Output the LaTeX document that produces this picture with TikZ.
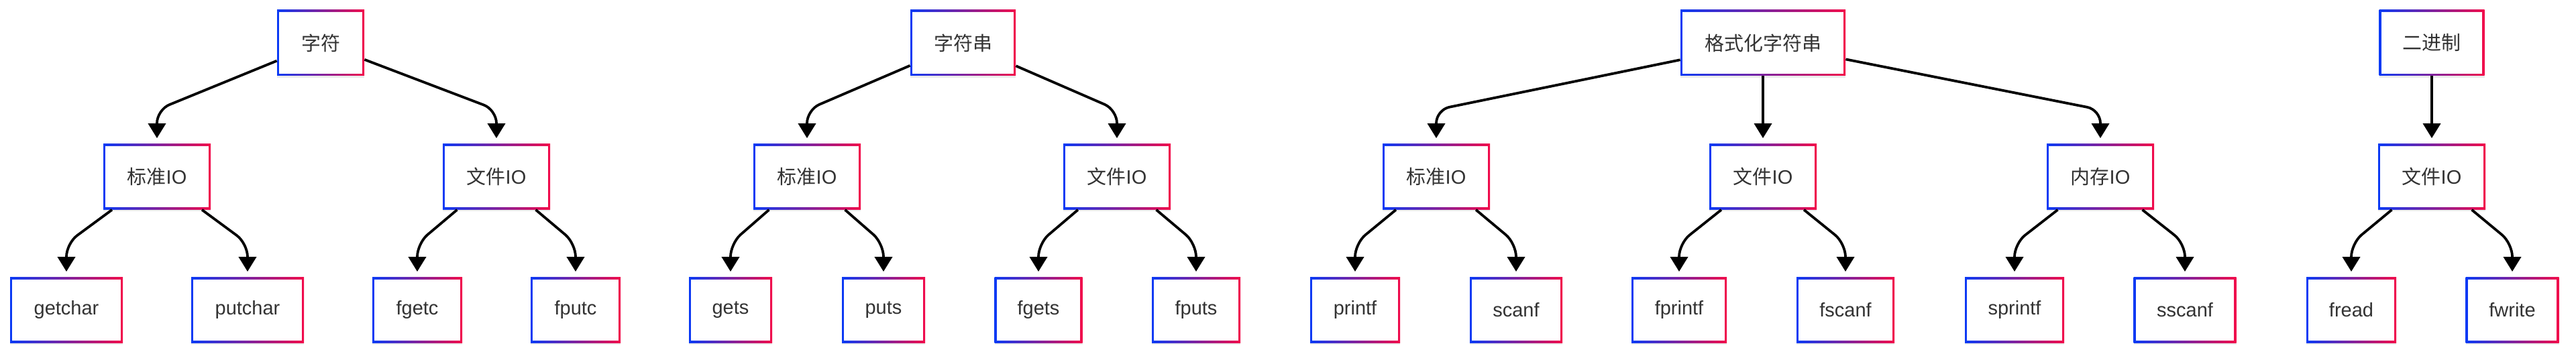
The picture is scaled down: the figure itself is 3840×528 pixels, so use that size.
\documentclass[tikz,border=0pt]{standalone}
\usepackage{fontspec}
\setmainfont{Liberation Sans}
\newfontfamily\cjk{Noto Sans CJK SC}
\usetikzlibrary{arrows.meta,shadows}
\definecolor{gblue}{HTML}{0A3AF5}
\definecolor{gred}{HTML}{F20A4A}
\definecolor{txt}{HTML}{333333}
\tikzset{
  box/.style={fill=white, minimum height=49pt, inner sep=0pt, text=txt,
    font=\fontsize{14.5pt}{17pt}\selectfont,
    drop shadow={shadow xshift=0pt, shadow yshift=-1.5pt, opacity=0.08, fill=black},
    path picture={
      \shade[left color=gblue, right color=gred] (path picture bounding box.south west) rectangle (path picture bounding box.north east);
      \fill[white] ([shift={(1.7pt,1.7pt)}]path picture bounding box.south west) rectangle ([shift={(-1.7pt,-1.7pt)}]path picture bounding box.north east);
    }},
  link/.style={line width=1.9pt, rounded corners=10pt, shorten >=4pt, -{Triangle[length=11pt,width=13pt]}}
}
\begin{document}
\begin{tikzpicture}[x=0.5pt, y=-0.5pt]
	\path[use as bounding box, fill=white] (0,0) rectangle (3840,528);
	
	% 字符
	\node[box, minimum width=65pt] (ch) at (478,64) {{\cjk 字符}};
	\node[box, minimum width=80pt] (ch_std) at (234,263.5) {{\cjk 标准}IO};
	\node[box, minimum width=80pt] (ch_file) at (740,263.5) {{\cjk 文件}IO};
	\node[box, minimum width=84pt] (getchar) at (99,462.5) {getchar};
	\node[box, minimum width=84pt] (putchar) at (369,462.5) {putchar};
	\node[box, minimum width=67pt] (fgetc) at (622,462.5) {fgetc};
	\node[box, minimum width=67pt] (fputc) at (858,462.5) {fputc};
	
	% 字符串
	\node[box, minimum width=78.5pt] (str) at (1435.5,64) {{\cjk 字符串}};
	\node[box, minimum width=80pt] (str_std) at (1203,263.5) {{\cjk 标准}IO};
	\node[box, minimum width=80pt] (str_file) at (1665,263.5) {{\cjk 文件}IO};
	\node[box, minimum width=62pt] (gets) at (1089,462.5) {gets};
	\node[box, minimum width=62pt] (puts) at (1317,462.5) {puts};
	\node[box, minimum width=65.5pt] (fgets) at (1548,462.5) {fgets};
	\node[box, minimum width=66pt] (fputs) at (1783,462.5) {fputs};
	
	% 格式化字符串
	\node[box, minimum width=123pt] (fmt) at (2628,64) {{\cjk 格式化字符串}};
	\node[box, minimum width=80pt] (fmt_std) at (2141,263.5) {{\cjk 标准}IO};
	\node[box, minimum width=80pt] (fmt_file) at (2628,263.5) {{\cjk 文件}IO};
	\node[box, minimum width=80pt] (fmt_mem) at (3131,263.5) {{\cjk 内存}IO};
	\node[box, minimum width=67pt] (printf) at (2020,462.5) {printf};
	\node[box, minimum width=69pt] (scanf) at (2260,462.5) {scanf};
	\node[box, minimum width=71pt] (fprintf) at (2503,462.5) {fprintf};
	\node[box, minimum width=73pt] (fscanf) at (2751,462.5) {fscanf};
	\node[box, minimum width=74pt] (sprintf) at (3003,462.5) {sprintf};
	\node[box, minimum width=76.5pt] (sscanf) at (3257,462.5) {sscanf};
	
	% 二进制
	\node[box, minimum width=78.5pt] (bin) at (3625,64) {{\cjk 二进制}};
	\node[box, minimum width=80pt] (bin_file) at (3625,263.5) {{\cjk 文件}IO};
	\node[box, minimum width=67pt] (fread) at (3505,462.5) {fread};
	\node[box, minimum width=69.5pt] (fwrite) at (3745,462.5) {fwrite};
	
	\foreach \p/\c/\m in {ch/ch_std/163.75, ch/ch_file/163.75,
		ch_std/getchar/363, ch_std/putchar/363, ch_file/fgetc/363, ch_file/fputc/363,
		str/str_std/163.75, str/str_file/163.75,
		str_std/gets/363, str_std/puts/363, str_file/fgets/363, str_file/fputs/363,
		fmt/fmt_std/163.75, fmt/fmt_file/163.75, fmt/fmt_mem/163.75,
		fmt_std/printf/363, fmt_std/scanf/363, fmt_file/fprintf/363, fmt_file/fscanf/363,
		fmt_mem/sprintf/363, fmt_mem/sscanf/363,
		bin/bin_file/163.75, bin_file/fread/363, bin_file/fwrite/363}{
		\draw[link] (\p) -- (\c |- 0,\m) -- (\c);
	}
\end{tikzpicture}
\end{document}
